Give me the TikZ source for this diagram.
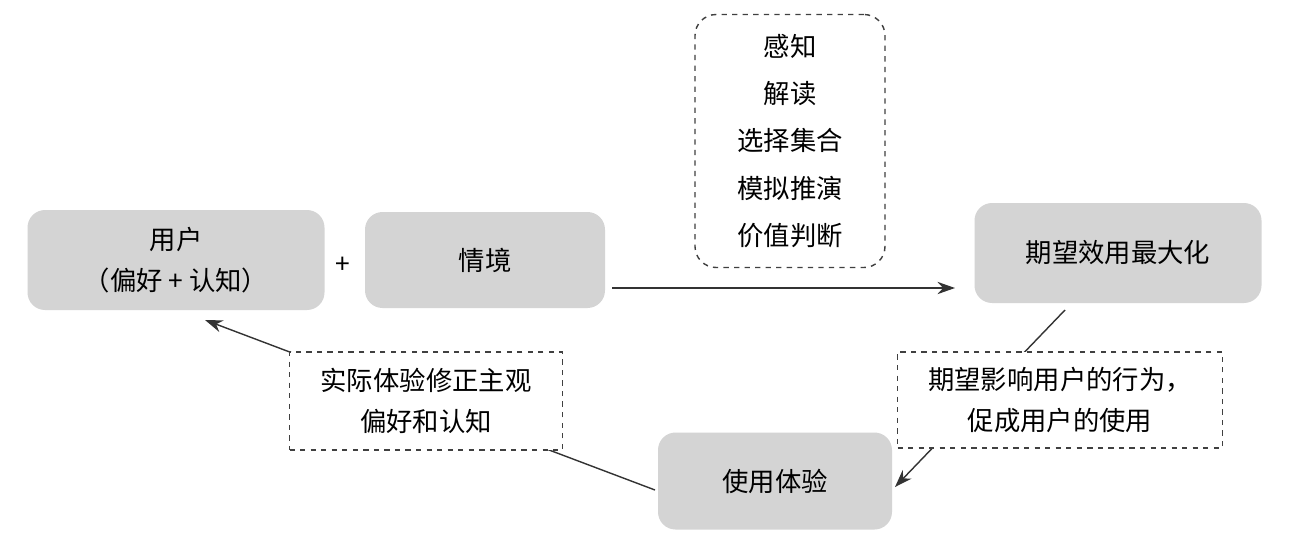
\documentclass[tikz,border=0pt]{standalone}
\usepackage{fontspec}
\setmainfont{Noto Sans CJK SC}
\usetikzlibrary{arrows.meta}
\begin{document}
\begin{tikzpicture}[x=0.02cm,y=-0.02cm,
  gbox/.style={fill=black!17,rounded corners=10pt,align=center,font=\fontsize{15}{23}\selectfont},
  dbox/.style={draw=black!75,dashed,fill=white,align=center,font=\fontsize{15}{23}\selectfont,thick},
  arr/.style={-{Stealth[length=10pt,width=7pt]},black!80,thick}]
\useasboundingbox[fill=white] (0,0) rectangle (1306,552);
\node[gbox,minimum width=297*0.02cm,minimum height=100*0.02cm] (u) at (176,260) {用户\\（偏好 + 认知）};
\node[font=\fontsize{15}{23}\selectfont] (p) at (343,265) {+};
\node[gbox,minimum width=240*0.02cm,minimum height=96*0.02cm] (q) at (485,260) {情境};
\node[dbox,rounded corners=12pt,minimum width=190*0.02cm,minimum height=253*0.02cm,font=\fontsize{15}{27}\selectfont] (d) at (790,141) {感知\\解读\\选择集合\\模拟推演\\价值判断};
\node[gbox,minimum width=287*0.02cm,minimum height=100*0.02cm] (e) at (1118,253) {期望效用最大化};
\node[gbox,minimum width=234*0.02cm,minimum height=97*0.02cm] (s) at (775,481) {使用体验};
\coordinate (a1) at (612,288);
\coordinate (a2) at (955,288);
\draw[arr] (a1) -- (a2);
\coordinate (b1) at (1065,310);
\coordinate (b2) at (895,487);
\draw[arr] (b1) -- (b2);
\node[dbox,minimum width=325*0.02cm,minimum height=96*0.02cm] (l1) at (1060,400) {期望影响用户的行为，\\促成用户的使用};
\coordinate (c1) at (655,490);
\coordinate (c2) at (205,320);
\draw[arr] (c1) -- (c2);
\node[dbox,minimum width=273*0.02cm,minimum height=98*0.02cm] (l2) at (426,401) {实际体验修正主观\\偏好和认知};
\end{tikzpicture}
\end{document}
